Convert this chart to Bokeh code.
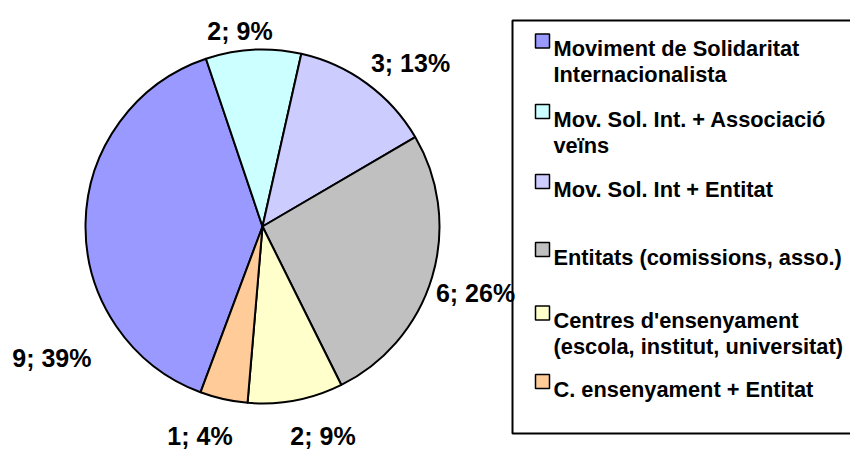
import numpy as np
from bokeh.plotting import figure
from bokeh.models import Range1d, ColumnDataSource
from bokeh.core.properties import value
from bokeh.embed import file_html
from bokeh.resources import INLINE

# ---- data ----
categories = [
    "Moviment de Solidaritat\nInternacionalista",
    "Mov. Sol. Int. + Associació\nveïns",
    "Mov. Sol. Int + Entitat",
    "Entitats (comissions, asso.)",
    "Centres d'ensenyament\n(escola, institut, universitat)",
    "C. ensenyament + Entitat",
]
counts = [9, 2, 3, 6, 2, 1]
colors = ["#9999FF", "#CCFFFF", "#CCCCFF", "#C0C0C0", "#FFFFCC", "#FFCC99"]

# ---- layout (pixel positions in the 850x450 picture) ----
W, H = 850, 450
def fx(ix):
    return ix
def fy(iy):
    return H - iy

center_img = (262, 226)
radius = 177
first_slice_cw = 200.5  # degrees clockwise from 12 o'clock

# data label anchors (image coords: x, baseline y, align)
label_anchor = [(91, 357, "right"), (239.5, 30, "center"), (410, 62, "center"),
                (475, 292, "center"), (322.5, 435, "center"), (199.5, 435, "center")]
# legend rows: first-line baseline (image y)
legend_base = [48, 118.5, 188.5, 256.5, 320, 388.5]
legend_line_gap = 26
legend_marker_x = 542
legend_text_x = 553

p = figure(width=W, height=H, output_backend="svg", toolbar_location=None,
           x_range=Range1d(0, W), y_range=Range1d(0, H), min_border=0,
           x_axis_location=None, y_axis_location=None)
p.grid.visible = False
p.outline_line_color = None
p.background_fill_color = "white"
p.border_fill_color = "white"

total = sum(counts)
frac = np.array(counts, dtype=float) / total
cum = first_slice_cw + 360.0 * np.concatenate([[0.0], np.cumsum(frac)])
theta_a, theta_b = cum[:-1], cum[1:]
src = ColumnDataSource(dict(
    start=np.radians(90 - theta_b),
    end=np.radians(90 - theta_a),
    color=colors,
))
p.wedge(x=fx(center_img[0]), y=fy(center_img[1]), radius=radius,
        start_angle="start", end_angle="end", fill_color="color",
        line_color="black", line_width=2, source=src)

labels = [f"{c}; {round(100 * c / total)}%" for c in counts]
for lab, (ax, ay, al) in zip(labels, label_anchor):
    p.text(x=[fx(ax)], y=[fy(ay)], text=[lab], text_font=value("Liberation Sans"),
           text_font_style="bold", text_font_size="25px", text_align=al,
           text_baseline="alphabetic", text_color="black")

# legend box
p.quad(left=[fx(512)], right=[W + 20], top=[fy(20)], bottom=[fy(433)],
       fill_color=None, line_color="black", line_width=2)

for cat, col, by in zip(categories, colors, legend_base):
    p.rect(x=[fx(legend_marker_x)], y=[fy(by - 7.5)], width=14, height=14,
           fill_color=col, line_color="black", line_width=1.5)
    for i, line in enumerate(cat.split("\n")):
        p.text(x=[fx(legend_text_x)], y=[fy(by + i * legend_line_gap)], text=[line],
               text_font=value("Liberation Sans"), text_font_style="bold",
               text_font_size="21.8px", text_align="left", text_baseline="alphabetic",
               text_color="black")

open("out.html", "w").write(file_html(p, INLINE))
